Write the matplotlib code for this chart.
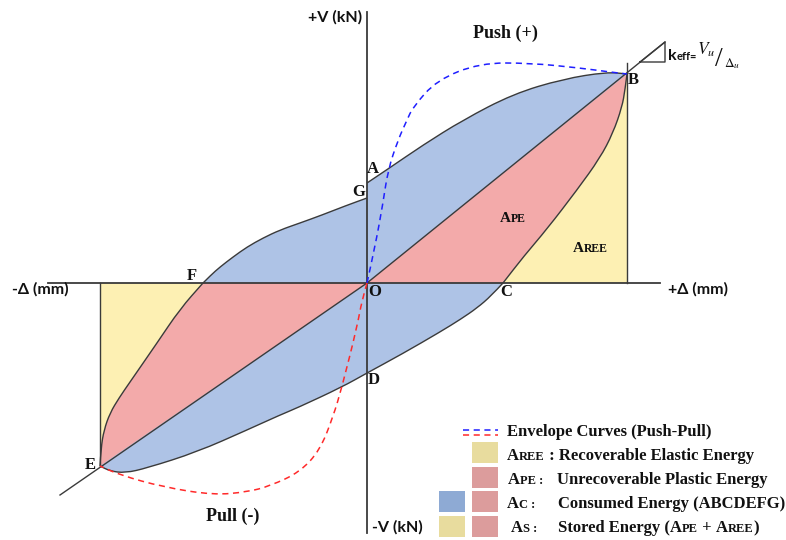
import matplotlib
matplotlib.use("Agg")
import matplotlib.pyplot as plt
from matplotlib.patches import PathPatch, Rectangle
from matplotlib.path import Path

# hysteresis loop, displacement (D) vs force (V), origin at O
# loading branch F -> G (negative side up to the V axis)
up_left_d = [-164, -156, -147, -134, -120, -104, -87, -67, -45, -22, 0]
up_left_v = [0, 8, 16, 26, 36, 45, 53, 60, 68, 77, 85]
# loading branch from the V axis through A up to B
up_right_d = [0, 21, 56, 96, 146, 196, 240, 260]
up_right_v = [100, 114, 138, 163, 189, 204, 211, 209]
# unloading B -> C
unload_b_d = [260, 258, 255, 246, 233, 210, 180, 157, 136]
unload_b_v = [209, 193, 176, 150, 125, 93, 54, 27, 0]
# reloading C -> D -> E
low_d = [136, 124, 110, 94, 73, 35, 0, -25, -70, -87, -120, -170, -220, -242, -257, -267]
low_v = [0, -13, -25, -36, -49, -71, -90, -104, -125, -132, -147, -169, -185, -190, -188, -183]
# unloading E -> F
unload_e_d = [-267, -266, -263, -257, -248, -237, -210, -187, -164]
unload_e_v = [-183, -165, -147, -130, -115, -99, -60, -26, 0]

# envelope curves
push_d = [0, 8, 16, 21, 31, 40, 46, 70, 113, 163, 213, 243, 260]
push_v = [0, 36, 80, 113, 143, 163, 176, 203, 220, 220, 215, 211, 209]
pull_d = [0, -5, -10, -25, -34, -47, -67, -97, -120, -154, -204, -247, -267]
pull_v = [0, -17, -44, -104, -134, -167, -189, -203, -209, -212, -204, -192, -183]

B = (260, 209)
E = (-267, -183)
B_ext = (298, 241)
E_ext = (-307, -212)

c_blue = "#aec3e6"
c_pink = "#f3aaaa"
c_yellow = "#fdf0b3"
s_blue = "#8eaad4"
s_pink = "#dc9c9c"
s_yellow = "#e8dc9e"
c_line = "#3a3a3a"

serif = "Liberation Serif"
sans = "Lato"

fig = plt.figure(figsize=(7.86, 5.40), dpi=100)
ax = fig.add_axes([0, 0, 1, 1])
ax.set_xlim(-367, 419)
ax.set_ylim(-257, 283)
ax.axis("off")


def curve(d, v):
    # quadratic bezier through the midpoints of the given polyline
    p = list(zip(d, v))
    verts = [p[0]]
    codes = [Path.LINETO]
    for i in range(1, len(p) - 1):
        m = ((p[i][0] + p[i + 1][0]) / 2, (p[i][1] + p[i + 1][1]) / 2)
        verts += [p[i], m]
        codes += [Path.CURVE3, Path.CURVE3]
    verts.append(p[-1])
    codes.append(Path.LINETO)
    return verts, codes


def outline(*pieces, closed=False):
    verts, codes = [], []
    for vs, cs in pieces:
        verts += vs
        codes += cs
    codes[0] = Path.MOVETO
    if closed:
        verts.append(verts[0])
        codes.append(Path.CLOSEPOLY)
    return Path(verts, codes)


def straight(*p):
    return list(p), [Path.LINETO] * len(p)


c_upl = curve(up_left_d, up_left_v)
c_upr = curve(up_right_d, up_right_v)
c_ub = curve(unload_b_d, unload_b_v)
c_low = curve(low_d, low_v)
c_ue = curve(unload_e_d, unload_e_v)
c_ub_rev = curve(unload_b_d[::-1], unload_b_v[::-1])
c_ue_rev = curve(unload_e_d[::-1], unload_e_v[::-1])

# whole loop (consumed energy)
ax.add_patch(PathPatch(outline(c_upl, c_upr, c_ub, c_low, c_ue, closed=True),
                       fc=c_blue, ec="none", zorder=1))
# plastic energy
ax.add_patch(PathPatch(outline(straight((0, 0)), c_ub, closed=True),
                       fc=c_pink, ec="none", zorder=2))
ax.add_patch(PathPatch(outline(straight((0, 0)), c_ue, closed=True),
                       fc=c_pink, ec="none", zorder=2))
# recoverable elastic energy
ax.add_patch(PathPatch(outline(straight((B[0], 0)), c_ub_rev, closed=True),
                       fc=c_yellow, ec="none", zorder=2))
ax.add_patch(PathPatch(outline(straight((E[0], 0)), c_ue_rev, closed=True),
                       fc=c_yellow, ec="none", zorder=2))

lw = 1.0
for c in (c_upl, c_upr, c_ub, c_low, c_ue):
    ax.add_patch(PathPatch(outline(c), fc="none", ec=c_line, lw=lw, zorder=4))

# secant lines through O
ax.plot([0, B_ext[0]], [0, B_ext[1]], color=c_line, lw=lw, zorder=4)
ax.plot([0, E_ext[0]], [0, E_ext[1]], color=c_line, lw=lw, zorder=4)
ax.plot([B[0], B[0]], [0, 220], color=c_line, lw=lw, zorder=4)
ax.plot([E[0], E[0]], [0, E[1]], color=c_line, lw=lw, zorder=4)

# stiffness triangle
ax.plot([273, 298, 298, 273], [221, 241, 221, 221], color=c_line, lw=lw, zorder=4)

# axes
ax.plot([-319, 293], [0, 0], color=c_line, lw=1.3, zorder=3)
ax.plot([0, 0], [-250, 271], color=c_line, lw=1.3, zorder=3)

# envelopes
ax.add_patch(PathPatch(outline(curve(push_d, push_v)), fc="none", ec="#1f1fff",
                       lw=1.1, ls=(0, (4, 3)), zorder=5))
ax.add_patch(PathPatch(outline(curve(pull_d, pull_v)), fc="none", ec="#ff2a2a",
                       lw=1.1, ls=(0, (4, 3)), zorder=5))

bold_serif = dict(family=serif, fontweight="bold", color="#111111")
bold_sans = dict(family=sans, fontweight="bold", color="#111111")

ax.text(-5, 266, "+V (kN)", ha="right", va="center", fontsize=11.5, **bold_sans)
ax.text(5, -244, "-V (kN)", ha="left", va="center", fontsize=11.5, **bold_sans)
ax.text(-355, -6, "-Δ (mm)", ha="left", va="center", fontsize=11.5, **bold_sans)
ax.text(301, -6, "+Δ (mm)", ha="left", va="center", fontsize=11.5, **bold_sans)
ax.text(138, 250, "Push (+)", ha="center", va="center", fontsize=13, **bold_serif)
ax.text(-134, -233, "Pull (-)", ha="center", va="center", fontsize=13, **bold_serif)

for name, d, v in [("A", 6, 114), ("G", -8, 91), ("O", 8, -9), ("D", 7, -97),
                   ("C", 139, -9), ("B", 266, 203), ("E", -277, -182), ("F", -175, 7)]:
    ax.text(d, v, name, ha="center", va="center", fontsize=12, zorder=6, **bold_serif)

renderer = fig.canvas.get_renderer()


def run_text(x, y, parts, **kw):
    # parts drawn one after another on a common baseline
    for s, size in parts:
        t = ax.text(x, y, s, fontsize=size, va="baseline", ha="left", zorder=6, **kw)
        x += t.get_window_extent(renderer=renderer).width
    return x


def caps(first, rest, big=12, small=9):
    return [(first, big), (rest, small)]


# small caps area labels
run_text(133, 61, caps("A", "PE", 11, 8.5), **bold_serif)
run_text(206, 31, caps("A", "REE", 11, 8.5), **bold_serif)

# effective stiffness
run_text(301, 223, [("k", 11.5), ("eff=", 8)], family=sans, fontweight="bold", color="#111111")
ax.text(330, 228, r"$V_u$", fontsize=12.5, math_fontfamily="stix", color="#111111")
ax.text(348, 217, "/", fontsize=20, family=serif, color="#111111")
ax.text(357, 216, r"$\Delta_u$", fontsize=9.5, math_fontfamily="stix", color="#111111")

# legend
ax.plot([96, 131], [-147, -147], color="#1f1fff", lw=1.1, ls=(0, (4, 3)))
ax.plot([96, 131], [-152, -152], color="#ff2a2a", lw=1.1, ls=(0, (4, 3)))
ax.add_patch(Rectangle((105, -180), 26, 21, fc=s_yellow, ec="none"))
ax.add_patch(Rectangle((105, -205), 26, 21, fc=s_pink, ec="none"))
ax.add_patch(Rectangle((72, -229), 26, 21, fc=s_blue, ec="none"))
ax.add_patch(Rectangle((105, -229), 26, 21, fc=s_pink, ec="none"))
ax.add_patch(Rectangle((72, -254), 26, 21, fc=s_yellow, ec="none"))
ax.add_patch(Rectangle((105, -254), 26, 21, fc=s_pink, ec="none"))

fs = 12
ax.text(140, -153, "Envelope Curves (Push-Pull)", fontsize=fs, va="baseline", **bold_serif)
run_text(140, -177, caps("A", "REE", fs, 9) + [(" : Recoverable Elastic Energy", fs)],
         **bold_serif)
run_text(141, -201, caps("A", "PE :", fs, 9), **bold_serif)
ax.text(190, -201, "Unrecoverable Plastic Energy", fontsize=fs, va="baseline", **bold_serif)
run_text(140, -225, caps("A", "C :", fs, 9), **bold_serif)
ax.text(191, -225, "Consumed Energy (ABCDEFG)", fontsize=fs, va="baseline", **bold_serif)
run_text(144, -249, caps("A", "S :", fs, 9), **bold_serif)
run_text(191, -249, [("Stored Energy (", fs)] + caps("A", "PE", fs, 9) + [(" + ", fs)]
         + caps("A", "REE", fs, 9) + [(")", fs)], **bold_serif)

fig.savefig("out.png", dpi=100)
